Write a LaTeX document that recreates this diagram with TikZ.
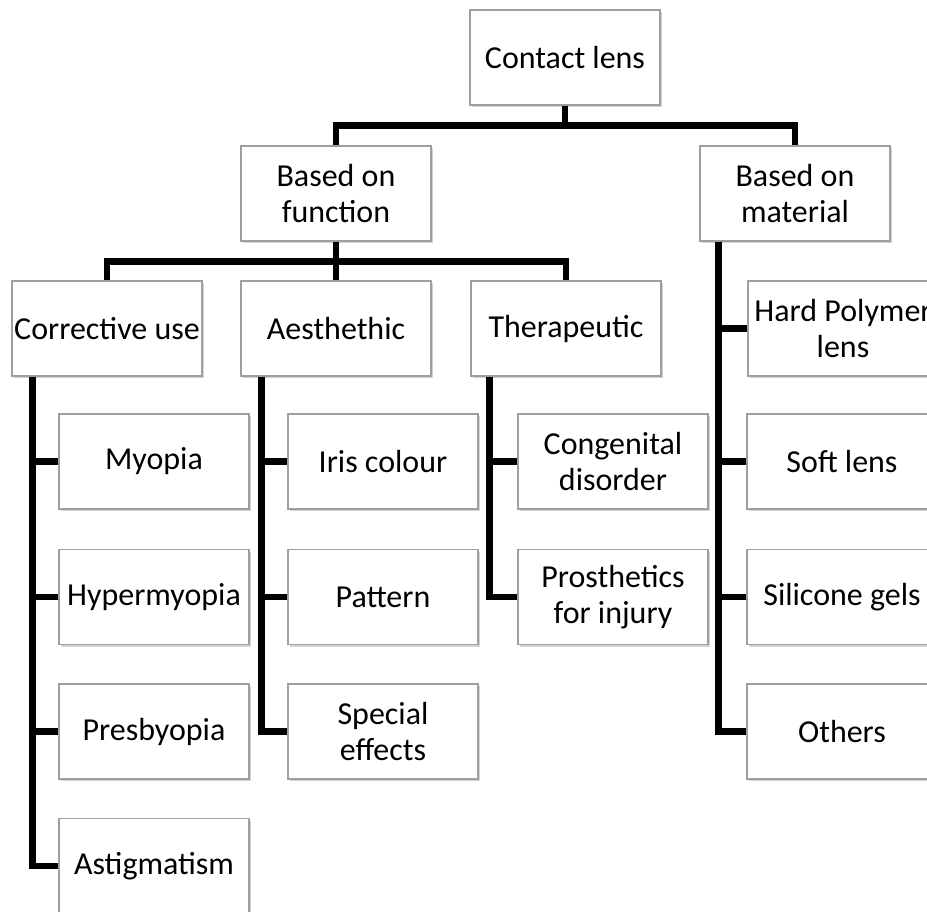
\documentclass[tikz,border=0pt]{standalone}
\usepackage{fontspec}
\setmainfont{Carlito}
\usetikzlibrary{shadows}

\begin{document}
\begin{tikzpicture}[x=0.02cm,y=-0.02cm,
  box/.style={draw=gray!75,fill=white,line width=0.6pt,minimum width=3.8cm,minimum height=1.9cm,
    inner sep=0pt,align=center,font=\fontsize{18.2pt}{20.5pt}\selectfont,
    drop shadow={shadow xshift=1.2pt,shadow yshift=-1.4pt,opacity=0.35,fill=gray}},
  link/.style={line width=3.6pt}]
\path[use as bounding box,clip] (0,0) rectangle (927,912);

\node[box] (lens) at (565,57.5) {Contact lens};
\node[box] (func) at (336,193.5) {Based on\\function};
\node[box] (mat) at (795,193.5) {Based on\\material};

\node[box] (corr) at (107,328.5) {Corrective use};
\node[box] (aes) at (336,328.5) {Aesthethic};
\node[box] (ther) at (566,328.5) {Therapeutic};
\node[box] (hard) at (843,328.5) {Hard Polymer\\lens};

\node[box] (myo) at (154,461.5) {Myopia};
\node[box] (hyp) at (154,597) {Hypermyopia};
\node[box] (pre) at (154,731.5) {Presbyopia};
\node[box] (ast) at (154,866) {Astigmatism};

\node[box] (iris) at (383,461.5) {Iris colour};
\node[box] (patt) at (383,597) {Pattern};
\node[box] (spec) at (383,731.5) {Special\\effects};

\node[box] (cong) at (613,461.5) {Congenital\\disorder};
\node[box] (pros) at (613,597) {Prosthetics\\for injury};

\node[box] (soft) at (842,461.5) {Soft lens};
\node[box] (sil) at (842,597) {Silicone gels};
\node[box] (oth) at (842,731.5) {Others};

\draw[link] (lens.south) -- ++(0,20) -| (func.north);
\draw[link] (lens.south) -- ++(0,20) -| (mat.north);
\foreach \c in {corr,aes,ther}
  \draw[link] (func.south) -- ++(0,20) -| (\c.north);

\foreach \c in {myo,hyp,pre,ast}
  \draw[link] ([xshift=0.42cm]corr.south west) |- (\c.west);
\foreach \c in {iris,patt,spec}
  \draw[link] ([xshift=0.42cm]aes.south west) |- (\c.west);
\foreach \c in {cong,pros}
  \draw[link] ([xshift=0.38cm]ther.south west) |- (\c.west);
\foreach \c in {hard,soft,sil,oth}
  \draw[link] ([xshift=0.38cm]mat.south west) |- (\c.west);
\end{tikzpicture}
\end{document}
